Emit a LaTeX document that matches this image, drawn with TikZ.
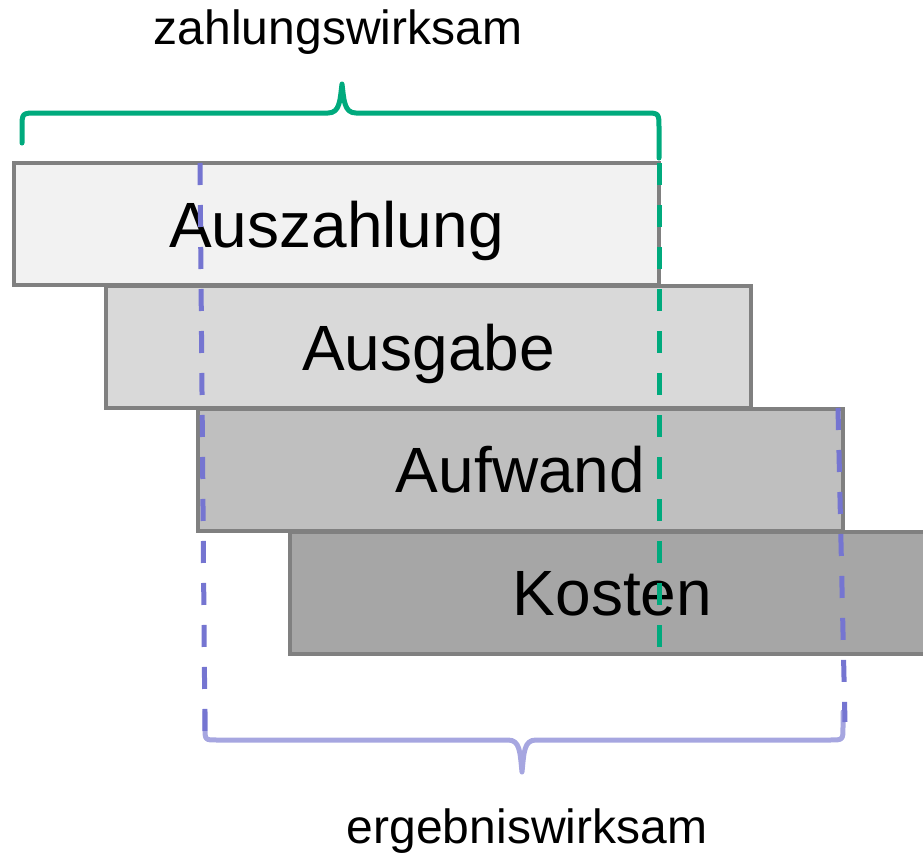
\documentclass[tikz,border=0pt]{standalone}
\usepackage{fontspec}
\setmainfont{Liberation Sans}
\definecolor{rand}{HTML}{808080}
\definecolor{zahlgruen}{HTML}{00AA7D}
\definecolor{ergblau}{HTML}{7575D1}
\definecolor{klammerblau}{HTML}{A6A6E0}
\begin{document}
\begin{tikzpicture}[x=0.5pt, y=-0.5pt,
    stufe/.style ={rectangle, draw=rand, line width=2pt, inner sep=0pt, text depth=0pt,
      minimum width=322.5pt, minimum height=61pt, font=\fontsize{32}{36}\selectfont},
    grenze/.style ={line width=2.5pt, dash pattern=on 11pt off 10pt},
    klammer/.style ={line width=2.5pt, line cap=round, line join=round}]
   \useasboundingbox (0,0) rectangle (923,857);
   \node[stufe, fill=black!5]  (auszahlung) at (336.5,224) {Auszahlung};
   \node[stufe, fill=black!15] (ausgabe)    at (428.5,347) {Ausgabe};
   \node[stufe, fill=black!25] (aufwand)    at (520.5,469.5) {Aufwand};
   \node[stufe, fill=black!35] (kosten)     at (612.5,593) {Kosten};
   % geschweifte Klammern
   \draw[klammer, zahlgruen] (22,143) -- (22,128) .. controls (22,113) .. (37,113)
     -- (328,113) .. controls (340,113) and (340,100) .. (342,84)
     .. controls (344,100) and (344,113) .. (356,113)
     -- (645,113) .. controls (659,113) .. (659,128) -- (659,158);
   \draw[klammer, klammerblau] (205,712) -- (205,728) .. controls (205,740) .. (217,740)
     -- (508,740) .. controls (520,740) and (520,752) .. (522,772)
     .. controls (524,752) and (524,740) .. (536,740)
     -- (830,740) .. controls (843,740) .. (843,727) -- (843,712);
   \coordinate (gruenoben) at (659,163);
   \coordinate (gruenunten) at (659,655);
   \coordinate (blauLoben) at (200,163);
   \coordinate (blauLunten) at (205,735);
   \coordinate (blauRoben) at (838,408);
   \coordinate (blauRunten) at (845,722);
   \draw[grenze, zahlgruen] (gruenoben) -- (gruenunten);
   \draw[grenze, ergblau] (blauLoben) -- (blauLunten);
   \draw[grenze, ergblau] (blauRoben) -- (blauRunten);
   \node[font=\fontsize{24}{28}\selectfont] (zahlung) at (338,32) {zahlungswirksam};
   \node[font=\fontsize{24}{28}\selectfont] (ergebnis) at (527,831) {ergebniswirksam};
 \end{tikzpicture}
\end{document}
